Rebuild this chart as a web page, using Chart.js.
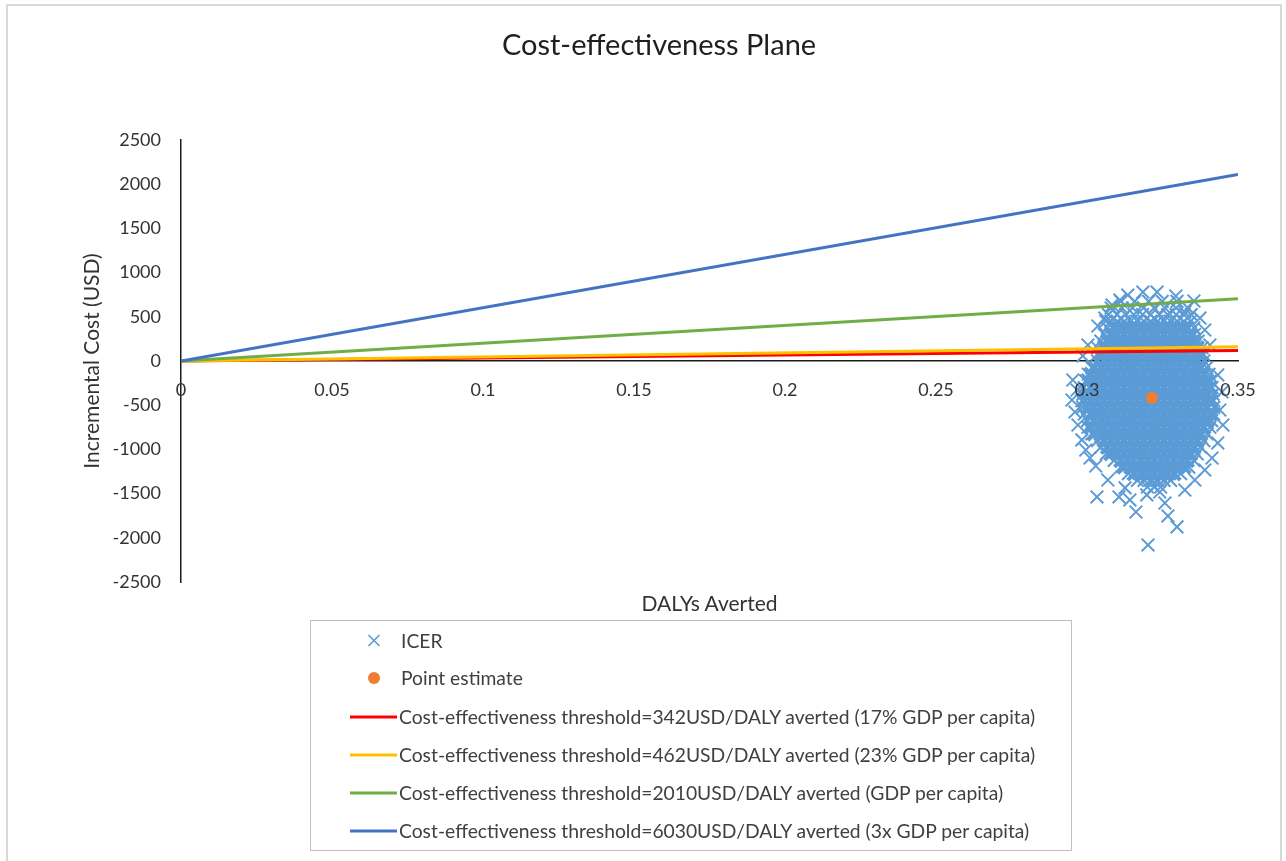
<!DOCTYPE html>
<html><head><meta charset="utf-8">
<script src="https://cdn.jsdelivr.net/npm/chart.js@4"></script>
<style>
html,body{margin:0;padding:0;background:#fff;}
#wrap{position:relative;width:1286px;height:861px;overflow:hidden;font-family:Lato,sans-serif;background:#fff;}
#frame{position:absolute;left:6px;top:4px;width:1276px;height:900px;border:2px solid #d9d9d9;box-sizing:border-box;}
#c{position:absolute;left:0;top:0;}
#xtitle{position:absolute;left:181px;width:1057px;top:590px;text-align:center;font-size:21px;line-height:26px;color:#333;}
#legend{position:absolute;left:310px;top:620px;width:762px;height:231px;border:1px solid #bfbfbf;box-sizing:border-box;}
.li{position:absolute;left:0;height:24px;width:760px;}
.li svg{position:absolute;left:38px;top:0;}
.li span{position:absolute;left:88px;top:0;font-size:19.3px;line-height:24px;color:#404040;white-space:nowrap;}
</style></head>
<body>
<div id="wrap">
  <div id="frame"></div>
  <canvas id="c" width="1286" height="861"></canvas>
  <div id="xtitle"></div>
  <div id="legend"></div>
</div>
<script>
const chartTitle = 'Cost-effectiveness Plane';
const xAxisTitle = 'DALYs Averted';
const yAxisTitle = 'Incremental Cost (USD)';
const xTickLabels = ['0','0.05','0.1','0.15','0.2','0.25','0.3','0.35'];
const yTickLabels = ['-2500','-2000','-1500','-1000','-500','0','500','1000','1500','2000','2500'];
const seriesNames = [
  'ICER',
  'Point estimate',
  'Cost-effectiveness threshold=342USD/DALY averted (17% GDP per capita)',
  'Cost-effectiveness threshold=462USD/DALY averted (23% GDP per capita)',
  'Cost-effectiveness threshold=2010USD/DALY averted (GDP per capita)',
  'Cost-effectiveness threshold=6030USD/DALY averted (3x GDP per capita)'
];

// ICER simulations: dense core, read row by row (incremental cost, DALYs averted values)
const icerRows = [
  [675,[0.3112,0.3158,0.3204,0.3249,0.3298]],
  [600,[0.3080,0.3116,0.3151,0.3187,0.3222,0.3258,0.3295,0.3334]],
  [525,[0.3071,0.3099,0.3128,0.3155,0.3184,0.3211,0.3240,0.3267,0.3295,0.3322,0.3345]],
  [450,[0.3062,0.3079,0.3101,0.3123,0.3145,0.3167,0.3189,0.3211,0.3233,0.3255,0.3277,0.3299,0.3321,0.3343]],
  [375,[0.3068,0.3090,0.3112,0.3134,0.3156,0.3178,0.3200,0.3222,0.3244,0.3266,0.3288,0.3310,0.3332,0.3354]],
  [300,[0.3057,0.3079,0.3101,0.3123,0.3145,0.3167,0.3189,0.3211,0.3233,0.3255,0.3277,0.3299,0.3321,0.3343,0.3356]],
  [225,[0.3046,0.3068,0.3090,0.3112,0.3134,0.3156,0.3178,0.3200,0.3222,0.3244,0.3266,0.3288,0.3310,0.3332,0.3354,0.3368]],
  [150,[0.3035,0.3057,0.3079,0.3101,0.3123,0.3145,0.3167,0.3189,0.3211,0.3233,0.3255,0.3277,0.3299,0.3321,0.3343,0.3365,0.3381]],
  [75,[0.3034,0.3046,0.3068,0.3090,0.3112,0.3134,0.3156,0.3178,0.3200,0.3222,0.3244,0.3266,0.3288,0.3310,0.3332,0.3354,0.3376,0.3386]],
  [0,[0.3035,0.3057,0.3079,0.3101,0.3123,0.3145,0.3167,0.3189,0.3211,0.3233,0.3255,0.3277,0.3299,0.3321,0.3343,0.3365,0.3387]],
  [-75,[0.3016,0.3024,0.3046,0.3068,0.3090,0.3112,0.3134,0.3156,0.3178,0.3200,0.3222,0.3244,0.3266,0.3288,0.3310,0.3332,0.3354,0.3376,0.3396]],
  [-150,[0.3004,0.3013,0.3035,0.3057,0.3079,0.3101,0.3123,0.3145,0.3167,0.3189,0.3211,0.3233,0.3255,0.3277,0.3299,0.3321,0.3343,0.3365,0.3387,0.3404]],
  [-225,[0.2996,0.3002,0.3024,0.3046,0.3068,0.3090,0.3112,0.3134,0.3156,0.3178,0.3200,0.3222,0.3244,0.3266,0.3288,0.3310,0.3332,0.3354,0.3376,0.3398,0.3409]],
  [-300,[0.2991,0.3013,0.3035,0.3057,0.3079,0.3101,0.3123,0.3145,0.3167,0.3189,0.3211,0.3233,0.3255,0.3277,0.3299,0.3321,0.3343,0.3365,0.3387,0.3409,0.3414]],
  [-375,[0.2986,0.3002,0.3024,0.3046,0.3068,0.3090,0.3112,0.3134,0.3156,0.3178,0.3200,0.3222,0.3244,0.3266,0.3288,0.3310,0.3332,0.3354,0.3376,0.3398,0.3417]],
  [-450,[0.2983,0.2991,0.3013,0.3035,0.3057,0.3079,0.3101,0.3123,0.3145,0.3167,0.3189,0.3211,0.3233,0.3255,0.3277,0.3299,0.3321,0.3343,0.3365,0.3387,0.3409,0.3420]],
  [-525,[0.2986,0.3002,0.3024,0.3046,0.3068,0.3090,0.3112,0.3134,0.3156,0.3178,0.3200,0.3222,0.3244,0.3266,0.3288,0.3310,0.3332,0.3354,0.3376,0.3398,0.3420]],
  [-600,[0.2991,0.3013,0.3035,0.3057,0.3079,0.3101,0.3123,0.3145,0.3167,0.3189,0.3211,0.3233,0.3255,0.3277,0.3299,0.3321,0.3343,0.3365,0.3387,0.3409,0.3419]],
  [-675,[0.3002,0.3024,0.3046,0.3068,0.3090,0.3112,0.3134,0.3156,0.3178,0.3200,0.3222,0.3244,0.3266,0.3288,0.3310,0.3332,0.3354,0.3376,0.3398,0.3413]],
  [-750,[0.3003,0.3013,0.3035,0.3057,0.3079,0.3101,0.3123,0.3145,0.3167,0.3189,0.3211,0.3233,0.3255,0.3277,0.3299,0.3321,0.3343,0.3365,0.3387,0.3407]],
  [-825,[0.3016,0.3024,0.3046,0.3068,0.3090,0.3112,0.3134,0.3156,0.3178,0.3200,0.3222,0.3244,0.3266,0.3288,0.3310,0.3332,0.3354,0.3376,0.3398]],
  [-900,[0.3035,0.3057,0.3079,0.3101,0.3123,0.3145,0.3167,0.3189,0.3211,0.3233,0.3255,0.3277,0.3299,0.3321,0.3343,0.3365,0.3387]],
  [-975,[0.3046,0.3068,0.3090,0.3112,0.3134,0.3156,0.3178,0.3200,0.3222,0.3244,0.3266,0.3288,0.3310,0.3332,0.3354,0.3376]],
  [-1050,[0.3064,0.3079,0.3101,0.3123,0.3145,0.3167,0.3189,0.3211,0.3233,0.3255,0.3277,0.3299,0.3321,0.3343,0.3365]],
  [-1125,[0.3090,0.3112,0.3134,0.3156,0.3178,0.3200,0.3222,0.3244,0.3266,0.3288,0.3310,0.3332,0.3354]],
  [-1200,[0.3112,0.3123,0.3145,0.3167,0.3189,0.3211,0.3233,0.3255,0.3277,0.3299,0.3321,0.3337]],
  [-1275,[0.3137,0.3156,0.3178,0.3200,0.3222,0.3244,0.3266,0.3288,0.3310]],
  [-1350,[0.3167,0.3189,0.3211,0.3233,0.3255,0.3277]],
  [-1425,[0.3200,0.3222,0.3244]]
];
// ICER simulations: scattered fringe points
const icerFringeX = [0.3135,0.3185,0.3232,0.3294,0.3354,0.3083,0.3109,0.3324,0.3374,0.3059,0.3036,0.3390,0.3407,0.3003,0.2986,
  0.2953,0.2967,0.2950,0.2960,0.2970,0.2983,0.2996,0.3010,0.3029,
  0.3433,0.3447,0.3440,0.3450,0.3433,0.3414,0.3390,
  0.3033,0.3106,0.3162,0.3202,0.3258,0.3268,0.3298,0.3198,0.3069,0.3126,0.3324,0.3357,0.3241,0.3142];
const icerFringeY = [746,780,780,735,679,633,690,554,486,486,396,351,181,181,57,
  -215,-328,-441,-577,-724,-893,-1007,-1097,-1188,
  -158,-351,-554,-724,-927,-1097,-1233,
  -1538,-1538,-1708,-2081,-1606,-1753,-1877,-1515,-1346,-1436,-1459,-1346,-1482,-1572];

const pointEstimateX = [0.3215];
const pointEstimateY = [-418];

const thresholdX = [0, 0.35];
const threshold342Y = [0, 119.7];
const threshold462Y = [0, 161.7];
const threshold2010Y = [0, 703.5];
const threshold6030Y = [0, 2110.5];

const seriesColors = ['#5B9BD5','#ED7D31','#FF0000','#FFC000','#70AD47','#4472C4'];

// Build point table; interior points of the dense core overlap into a solid mass
const icerPoints = [];
const icerInterior = [];
icerRows.forEach(([y, xs]) => xs.forEach((x, j) => {
  icerPoints.push({x, y});
  icerInterior.push(y <= 375 && y >= -1275 && j > 0 && j < xs.length - 1);
}));
icerFringeX.forEach((x, i) => { icerPoints.push({x, y: icerFringeY[i]}); icerInterior.push(false); });
const toPts = (xs, ys) => xs.map((x, i) => ({x, y: ys[i]}));

const FONT = 'Lato';
const lineDs = (i, ys, order) => ({
  label: seriesNames[i], data: toPts(thresholdX, ys), showLine: true, xAxisID: 'x',
  borderColor: seriesColors[i], backgroundColor: seriesColors[i], borderWidth: 3,
  pointRadius: 0, order
});

const chart = new Chart(document.getElementById('c'), {
  type: 'scatter',
  data: { datasets: [
    { label: seriesNames[0], data: icerPoints, pointStyle: 'crossRot', pointRadius: 9, xAxisID: 'x',
      borderColor: seriesColors[0], backgroundColor: seriesColors[0],
      borderWidth: (c) => (icerInterior[c.dataIndex] ? 4 : 2), order: 6 },
    { label: seriesNames[1], data: toPts(pointEstimateX, pointEstimateY), pointStyle: 'circle', pointRadius: 6, xAxisID: 'x',
      borderColor: seriesColors[1], backgroundColor: seriesColors[1], borderWidth: 0, order: 5 },
    lineDs(2, threshold342Y, 4),
    lineDs(3, threshold462Y, 3),
    lineDs(4, threshold2010Y, 2),
    lineDs(5, threshold6030Y, 1)
  ]},
  options: {
    responsive: false, animation: false, events: [],
    layout: { padding: { left: 80, right: 48, top: 0, bottom: 279 } },
    plugins: {
      legend: { display: false },
      tooltip: { enabled: false },
      title: { display: true, text: chartTitle, color: '#1f1f1f',
        font: { family: FONT, size: 29, weight: 'normal' }, padding: { top: 28, bottom: 77.2 } }
    },
    scales: {
      // tick labels (drawn above the marks); axis line drawn beneath the marks
      x: { type: 'linear', position: { y: 0 }, min: 0, max: 0.35,
        ticks: { stepSize: 0.05, autoSkip: false, maxRotation: 0, padding: 18, color: '#333', z: 1,
          font: { family: FONT, size: 18 }, callback: (v, i) => xTickLabels[i] },
        grid: { display: false, drawTicks: false },
        border: { display: true, color: '#1a1a1a', width: 1.5, z: -1 } },
      y: { type: 'linear', position: 'left', min: -2500, max: 2500,
        ticks: { stepSize: 500, padding: 20, color: '#333',
          font: { family: FONT, size: 18 }, callback: (v, i) => yTickLabels[i] },
        grid: { display: false, drawTicks: false },
        border: { display: true, color: '#1a1a1a', width: 1.5 },
        title: { display: true, text: yAxisTitle, color: '#333', font: { family: FONT, size: 21 }, padding: 0 },
        afterFit: (s) => { s.width = 101; } }
    }
  }
});

document.getElementById('xtitle').textContent = xAxisTitle;

// HTML legend built from the chart's datasets
const legend = document.getElementById('legend');
const rowTops = [8, 45, 84, 122, 160, 198];
chart.data.datasets.forEach((ds, i) => {
  const row = document.createElement('div');
  row.className = 'li';
  row.style.top = rowTops[i] + 'px';
  let svg;
  if (ds.pointStyle === 'crossRot') {
    svg = `<svg width="50" height="24"><path d="M19.5 6 L30.5 17 M30.5 6 L19.5 17" stroke="${ds.borderColor}" stroke-width="1.6" fill="none"/></svg>`;
  } else if (ds.showLine) {
    svg = `<svg width="50" height="24"><line x1="1" y1="12" x2="48" y2="12" stroke="${ds.borderColor}" stroke-width="3"/></svg>`;
  } else {
    svg = `<svg width="50" height="24"><circle cx="25" cy="12" r="6" fill="${ds.backgroundColor}"/></svg>`;
  }
  row.innerHTML = svg;
  const sp = document.createElement('span');
  sp.textContent = ds.label;
  if (!ds.showLine) sp.style.left = '90px';
  row.appendChild(sp);
  legend.appendChild(row);
});
</script>
</body></html>
